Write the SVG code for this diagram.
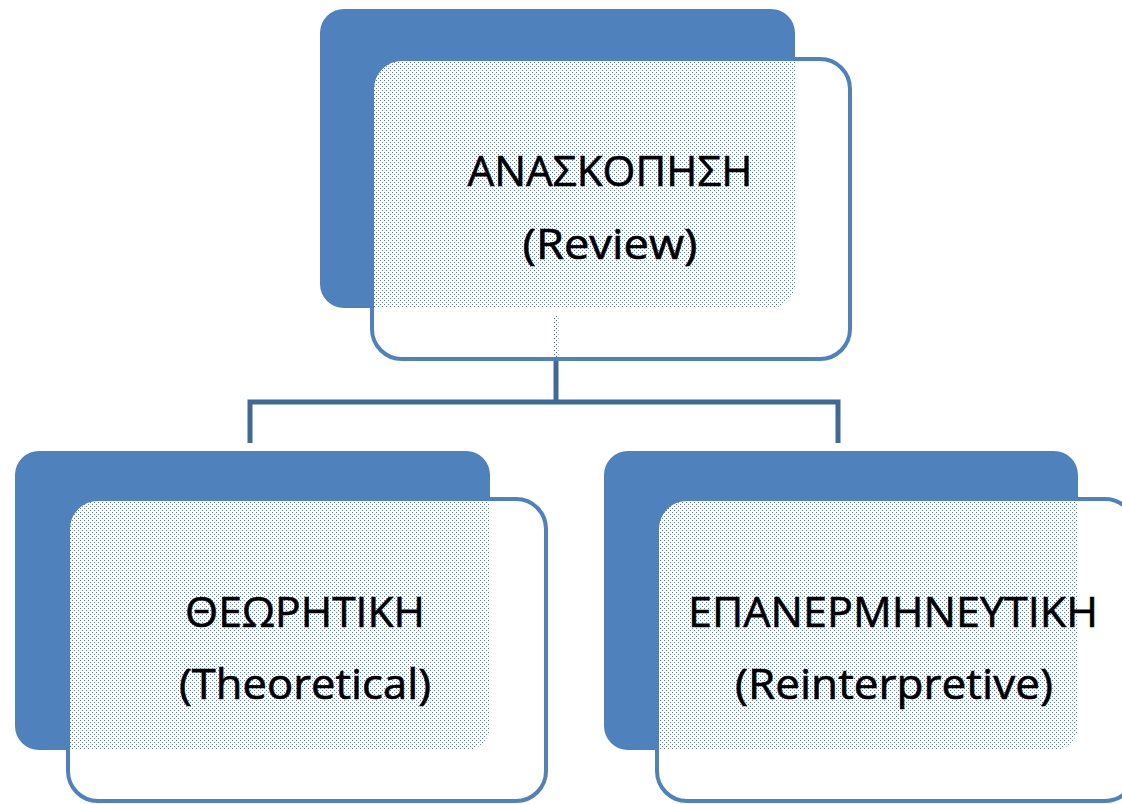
<svg xmlns="http://www.w3.org/2000/svg" width="1122" height="804" viewBox="0 0 1122 804">
  <defs>
    <!-- white screen with pinholes so the layer underneath shows through as fine dots -->
    <pattern id="screen" patternUnits="userSpaceOnUse" width="4" height="4">
      <path d="M0 0h4v4h-4z M0 0h1v1h-1z M2 2h1v1h-1z" fill="#ffffff" fill-rule="evenodd" shape-rendering="crispEdges"/>
    </pattern>
    <style>
      .back { fill: #4F81BD; }
      .front { fill: url(#screen); stroke: #4F81BD; stroke-width: 4; }
      .link { fill: none; stroke: #3F6A98; stroke-width: 5; }
      .label { font-family: "Open Sans", "Noto Sans", "DejaVu Sans", sans-serif; font-size: 42px; fill: #000000; stroke: #000000; stroke-width: 0.6; text-anchor: middle; }
    </style>
  </defs>

  <rect width="1122" height="804" fill="#ffffff"/>

  <!-- back plates -->
  <rect class="back" x="320" y="9" width="475" height="299" rx="24"/>
  <rect class="back" x="15" y="451" width="475" height="299" rx="24"/>
  <rect class="back" x="604" y="451" width="474" height="299" rx="24"/>

  <!-- connectors -->
  <g id="connectors">
    <path class="link" d="M556 315 V402"/>
    <path class="link" d="M250 443 V402 H838 V443"/>
  </g>

  <g id="node-review">
    <rect class="front" x="372" y="59" width="478" height="300" rx="30"/>
    <text class="label" x="610" y="186" textLength="285" lengthAdjust="spacingAndGlyphs">ΑΝΑΣΚΟΠΗΣΗ</text>
    <text class="label" x="610" y="259" textLength="175" lengthAdjust="spacingAndGlyphs">(Review)</text>
  </g>

  <g id="node-theoretical">
    <rect class="front" x="68" y="499" width="478" height="302" rx="30"/>
    <text class="label" x="305" y="627" textLength="240" lengthAdjust="spacingAndGlyphs">ΘΕΩΡΗΤΙΚΗ</text>
    <text class="label" x="305" y="699" textLength="252" lengthAdjust="spacingAndGlyphs">(Theoretical)</text>
  </g>

  <g id="node-reinterpretive">
    <rect class="front" x="657" y="499" width="478" height="302" rx="30"/>
    <text class="label" x="893" y="627" textLength="410" lengthAdjust="spacingAndGlyphs">ΕΠΑΝΕΡΜΗΝΕΥΤΙΚΗ</text>
    <text class="label" x="894" y="699" textLength="318" lengthAdjust="spacingAndGlyphs">(Reinterpretive)</text>
  </g>
</svg>
